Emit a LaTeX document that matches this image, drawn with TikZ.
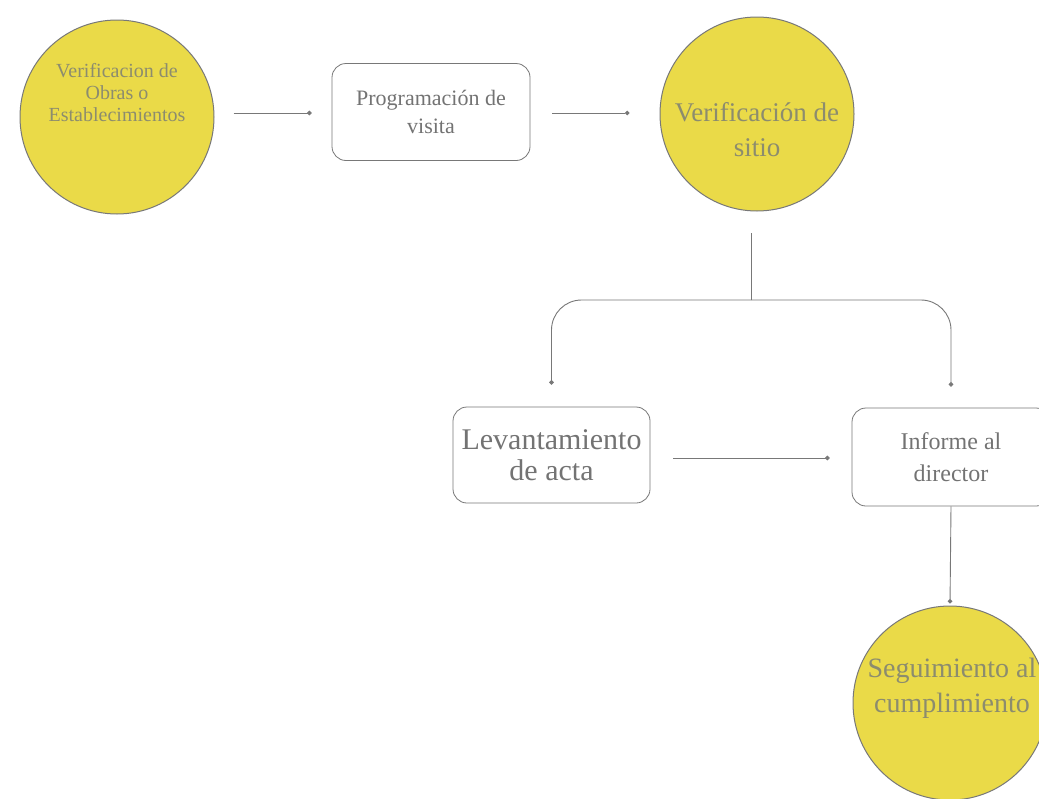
\documentclass[tikz,border=0pt]{standalone}
\usepackage{fontspec}
\setmainfont{Liberation Serif}
\usetikzlibrary{arrows.meta}
\definecolor{yel}{RGB}{234,218,72}
\definecolor{circtxt}{RGB}{140,140,110}
\definecolor{boxtxt}{RGB}{115,115,115}
\definecolor{edge}{RGB}{120,120,120}
\tikzset{
  x=1pt, y=-1pt,
  circ/.style={circle, draw=edge, line width=1pt, fill=yel, minimum size=194pt, inner sep=0pt},
  ctext/.style={align=center, text=circtxt, inner sep=0pt},
  rbox/.style={draw=edge, line width=0.8pt, rounded corners=14pt, inner sep=0pt, align=center, text=boxtxt},
  conn/.style={draw=edge, line width=0.9pt, -{Circle[length=4.5pt]}},
  plain/.style={draw=edge, line width=0.9pt},
}
\begin{document}
\begin{tikzpicture}
\useasboundingbox (0,0) rectangle (1039,798);
\clip (0,0) rectangle (1039,798);
\fill[white] (0,0) rectangle (1039,798);
\node[circ] (c1) at (117,117) {};
\node[ctext, font=\fontsize{20}{22}\selectfont] (c1t) at (117,93) {Verificacion de\\Obras o\\Establecimientos};
\node[rbox, minimum width=198pt, minimum height=97pt, font=\fontsize{22}{28}\selectfont] (b1) at (431,112) {Programación de\\visita};
\node[circ] (c2) at (757,114) {};
\node[ctext, font=\fontsize{27}{35}\selectfont] (c2t) at (757,130) {Verificación de\\sitio};
\node[rbox, minimum width=197pt, minimum height=96pt, font=\fontsize{30}{31}\selectfont] (b2) at (551.5,455) {Levantamiento\\de acta};
\node[rbox, minimum width=198pt, minimum height=98pt, font=\fontsize{24}{32}\selectfont] (b3) at (951,457) {Informe al\\director};
\node[circ] (c3) at (950,703) {};
\node[ctext, font=\fontsize{28}{35}\selectfont] (c3t) at (952,688) {Seguimiento al\\cumplimiento};
\coordinate (j) at (751,300);
\draw[conn, shorten <=19pt, shorten >=20pt] (c1.east |- 0,113) -- (b1.west |- 0,113);
\draw[conn, shorten <=22pt, shorten >=30pt] (b1.east |- 0,113) -- (c2.west |- 0,113);
\draw[plain] (751,233) -- (j);
\draw[conn, rounded corners=30pt, shorten >=22pt] (j) -| (b2.north);
\draw[conn, rounded corners=30pt, shorten >=21pt] (j) -| (b3.north);
\draw[conn, shorten <=23pt, shorten >=22pt] (b2.east |- 0,458) -- (b3.west |- 0,458);
\draw[conn, shorten >=2pt] (b3.south) -- (c3.north);
\end{tikzpicture}
\end{document}
